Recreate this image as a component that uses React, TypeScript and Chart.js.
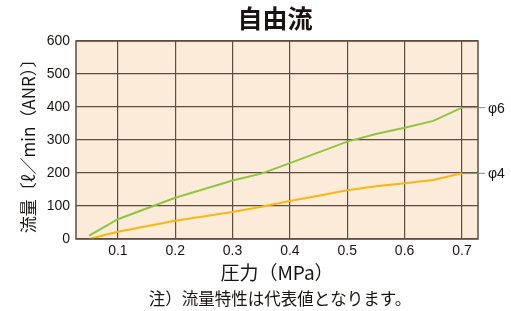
import React, { useEffect, useRef } from "react";
import { Chart, registerables } from "chart.js";

Chart.register(...registerables);

const pressure6 = [0.05, 0.1, 0.2, 0.3, 0.35, 0.4, 0.5, 0.55, 0.6, 0.65, 0.7];
const flow6 = [10, 60, 125, 177, 198, 230, 295, 318, 337, 358, 398];
const pressure4 = [0.05, 0.1, 0.2, 0.3, 0.35, 0.4, 0.45, 0.5, 0.55, 0.6, 0.65, 0.7];
const flow4 = [0, 22, 55, 82, 98, 115, 131, 148, 160, 169, 179, 199];
const xTicks = [0.1, 0.2, 0.3, 0.4, 0.5, 0.6, 0.7];
const seriesLabels = ["φ6", "φ4"];
const titleText = "自由流";
const xTitle = "圧力（MPa）";
const yTitle = "流量〔ℓ／min（ANR）〕";
const note = "注）流量特性は代表値となります。";

const GREEN = "#8dc63f";
const ORANGE = "#f6b614";
const GRID = "#5e4d40";
const TEXT = "#1a1311";

const decor = {
  id: "decor",
  beforeDraw(chart: any) {
    const { ctx, chartArea: a } = chart;
    ctx.save();
    ctx.fillStyle = "#fdebd9";
    ctx.fillRect(a.left, a.top, a.right - a.left, a.bottom - a.top);
    ctx.restore();
  },
  afterDatasetsDraw(chart: any) {
    const { ctx, chartArea: a } = chart;
    const xs = chart.scales.x;
    const ys = chart.scales.y;
    ctx.save();
    ctx.strokeStyle = GRID;
    ctx.lineWidth = 1.5;
    ctx.strokeRect(a.left, a.top, a.right - a.left, a.bottom - a.top);
    const ends = [
      [pressure6[pressure6.length - 1], flow6[flow6.length - 1]],
      [pressure4[pressure4.length - 1], flow4[flow4.length - 1]],
    ];
    ctx.font = "14px 'Liberation Sans', Arial, sans-serif";
    ctx.textBaseline = "middle";
    ctx.textAlign = "left";
    ends.forEach(([px, py], i) => {
      const x0 = xs.getPixelForValue(px);
      const y0 = ys.getPixelForValue(py);
      ctx.strokeStyle = "#8a8580";
      ctx.lineWidth = 1;
      ctx.beginPath();
      ctx.moveTo(x0, y0);
      ctx.lineTo(a.right + 7, y0);
      ctx.stroke();
      ctx.fillStyle = TEXT;
      ctx.fillText(seriesLabels[i], a.right + 10, y0 + 1);
    });
    ctx.restore();
  },
  afterDraw(chart: any) {
    const { ctx } = chart;
    ctx.save();
    ctx.fillStyle = TEXT;
    ctx.textAlign = "center";
    ctx.textBaseline = "middle";
    ctx.font = "bold 25px 'Noto Sans CJK JP', sans-serif";
    ctx.fillText(titleText, 275, 18);
    ctx.font = "19px 'Noto Sans CJK JP', sans-serif";
    ctx.fillText(xTitle, 277, 273);
    ctx.font = "16.5px 'Noto Sans CJK JP', sans-serif";
    ctx.fillText(note, 280, 299);
    ctx.translate(29, 142);
    ctx.rotate(-Math.PI / 2);
    ctx.font = "17px 'Noto Sans CJK JP', sans-serif";
    ctx.fillText(yTitle, 0, 0);
    ctx.restore();
  },
};

export default function App() {
  const ref = useRef<HTMLCanvasElement>(null);
  useEffect(() => {
    if (!ref.current) return;
    const chart = new Chart(ref.current, {
      type: "line",
      data: {
        datasets: [
          {
            label: seriesLabels[0],
            data: pressure6.map((x, i) => ({ x, y: flow6[i] })),
            borderColor: GREEN,
            borderWidth: 2,
            pointRadius: 0,
            tension: 0,
          },
          {
            label: seriesLabels[1],
            data: pressure4.map((x, i) => ({ x, y: flow4[i] })),
            borderColor: ORANGE,
            borderWidth: 2,
            pointRadius: 0,
            tension: 0,
          },
        ],
      },
      options: {
        animation: false,
        responsive: false,
        layout: { padding: { left: 0, right: 33, top: 41, bottom: 0 } },
        plugins: { legend: { display: false }, tooltip: { enabled: false } },
        scales: {
          x: {
            type: "linear",
            min: 0.027,
            max: 0.728,
            afterBuildTicks: (s: any) => {
              s.ticks = xTicks.map((v) => ({ value: v }));
            },
            afterFit: (s: any) => {
              s.height = 72;
            },
            ticks: {
              callback: (v: any) => Number(v).toFixed(1),
              color: TEXT,
              font: { family: "'Liberation Sans', Arial, sans-serif", size: 14 },
              padding: 4,
              maxRotation: 0,
            },
            grid: { color: GRID, lineWidth: 1.2, drawTicks: false },
            border: { display: false },
          },
          y: {
            min: 0,
            max: 600,
            afterFit: (s: any) => {
              s.width = 76;
            },
            ticks: {
              stepSize: 100,
              color: TEXT,
              font: { family: "'Liberation Sans', Arial, sans-serif", size: 14 },
              padding: 6,
            },
            grid: { color: GRID, lineWidth: 1.2, drawTicks: false },
            border: { display: false },
          },
        },
      },
      plugins: [decor],
    });
    return () => chart.destroy();
  }, []);
  return (
    <div style={{ position: "fixed", left: 0, top: 0, width: 511, height: 311, background: "#fff" }}>
      <canvas ref={ref} width={511} height={311} />
    </div>
  );
}
